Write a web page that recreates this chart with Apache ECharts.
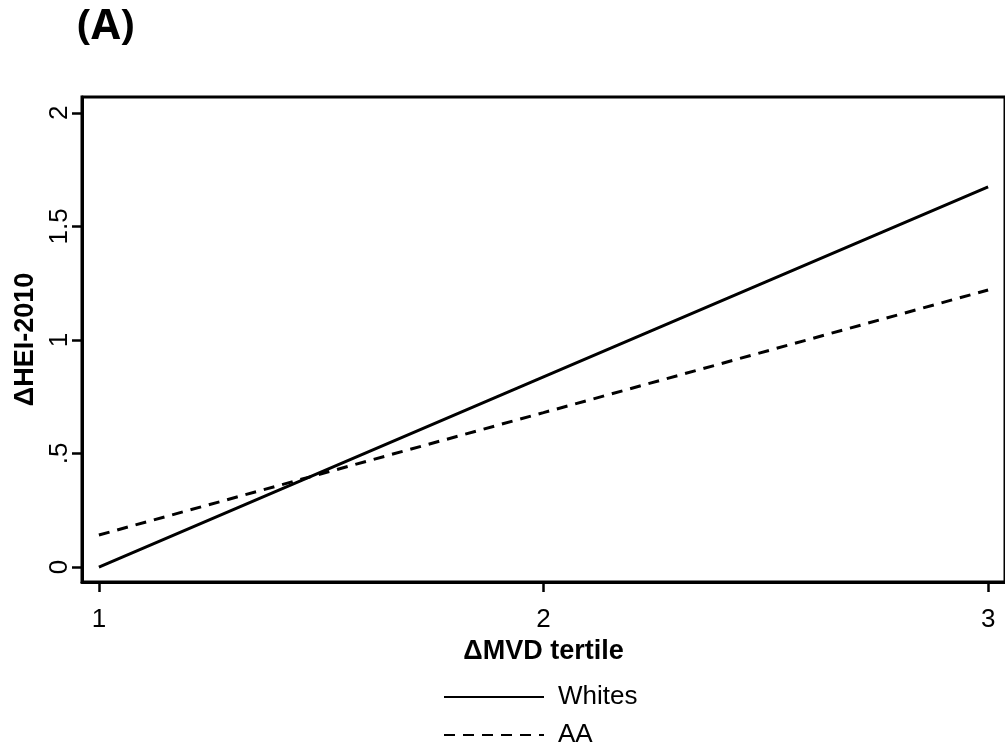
<!DOCTYPE html>
<html>
<head>
<meta charset="utf-8">
<script src="https://cdn.jsdelivr.net/npm/echarts@6/dist/echarts.min.js"></script>
<style>html,body{margin:0;padding:0;background:#fff;}#c{width:1005px;height:749px;}</style>
</head>
<body>
<div id="c"></div>
<script>
var tertiles = [1, 2, 3];
var whites = [0, 0.837, 1.674];
var aa = [0.141, 0.68, 1.22];
var yTickValues = [0, 0.5, 1, 1.5, 2];
var yTickLabels = ['0', '.5', '1', '1.5', '2'];
var xTickValues = [1, 2, 3];
var xTickLabels = ['1', '2', '3'];

var chart = echarts.init(document.getElementById('c'));
var font = 'Liberation Sans, Arial, sans-serif';
function pairs(v){ return tertiles.map(function(t,i){ return [t, v[i]]; }); }
chart.setOption({
  animation: false,
  backgroundColor: '#fff',
  title: {
    text: '(A)', left: 77, top: 6, padding: 0,
    textStyle: { fontFamily: 'Open Sans', fontWeight: 'bold', fontSize: 42, color: '#000' }
  },
  legend: {
    orient: 'vertical', left: 443, top: 684, padding: 0,
    itemWidth: 100, itemHeight: 14, itemGap: 12,
    itemStyle: { opacity: 0 },
    textStyle: { fontFamily: font, fontSize: 26, lineHeight: 26, color: '#000', padding: [0,0,0,9] },
    data: ['Whites', 'AA']
  },
  grid: {
    left: 82, right: 0, top: 97, bottom: 167,
    show: true, borderColor: '#000', borderWidth: 3, backgroundColor: 'transparent'
  },
  xAxis: {
    type: 'value', min: 0.962, max: 3.038,
    name: 'ΔMVD tertile', nameLocation: 'middle', nameGap: 46,
    nameTextStyle: { fontFamily: font, fontWeight: 'bold', fontSize: 27, color: '#000' },
    axisLine: { show: true, onZero: false, lineStyle: { color: '#000', width: 3 } },
    axisTick: { show: true, length: 10, lineStyle: { color: '#000', width: 2.5 }, customValues: xTickValues },
    axisLabel: { customValues: xTickValues, margin: 25, fontFamily: font, fontSize: 26, color: '#000',
      formatter: function(v){ var i = xTickValues.indexOf(v); return i >= 0 ? xTickLabels[i] : ''; } },
    splitLine: { show: false }
  },
  yAxis: {
    type: 'value', min: -0.066, max: 2.07,
    name: 'ΔHEI-2010', nameLocation: 'middle', nameGap: 42, nameRotate: 90,
    nameTextStyle: { fontFamily: font, fontWeight: 'bold', fontSize: 27, color: '#000' },
    axisLine: { show: true, onZero: false, lineStyle: { color: '#000', width: 3 } },
    axisTick: { show: true, length: 10, lineStyle: { color: '#000', width: 2.5 }, customValues: yTickValues },
    axisLabel: { customValues: yTickValues, rotate: 90, margin: 9, fontFamily: font, fontSize: 26, color: '#000',
      formatter: function(v){ var i = yTickValues.indexOf(v); return i >= 0 ? yTickLabels[i] : ''; } },
    splitLine: { show: false }
  },
  series: [
    { name: 'Whites', type: 'line', data: pairs(whites), showSymbol: false, symbol: 'none',
      lineStyle: { color: '#000', width: 3, type: 'solid' }, itemStyle: { color: '#000' } },
    { name: 'AA', type: 'line', data: pairs(aa), showSymbol: false, symbol: 'none',
      lineStyle: { color: '#000', width: 3, type: [11, 8] }, itemStyle: { color: '#000' } }
  ]
});
</script>
</body>
</html>
